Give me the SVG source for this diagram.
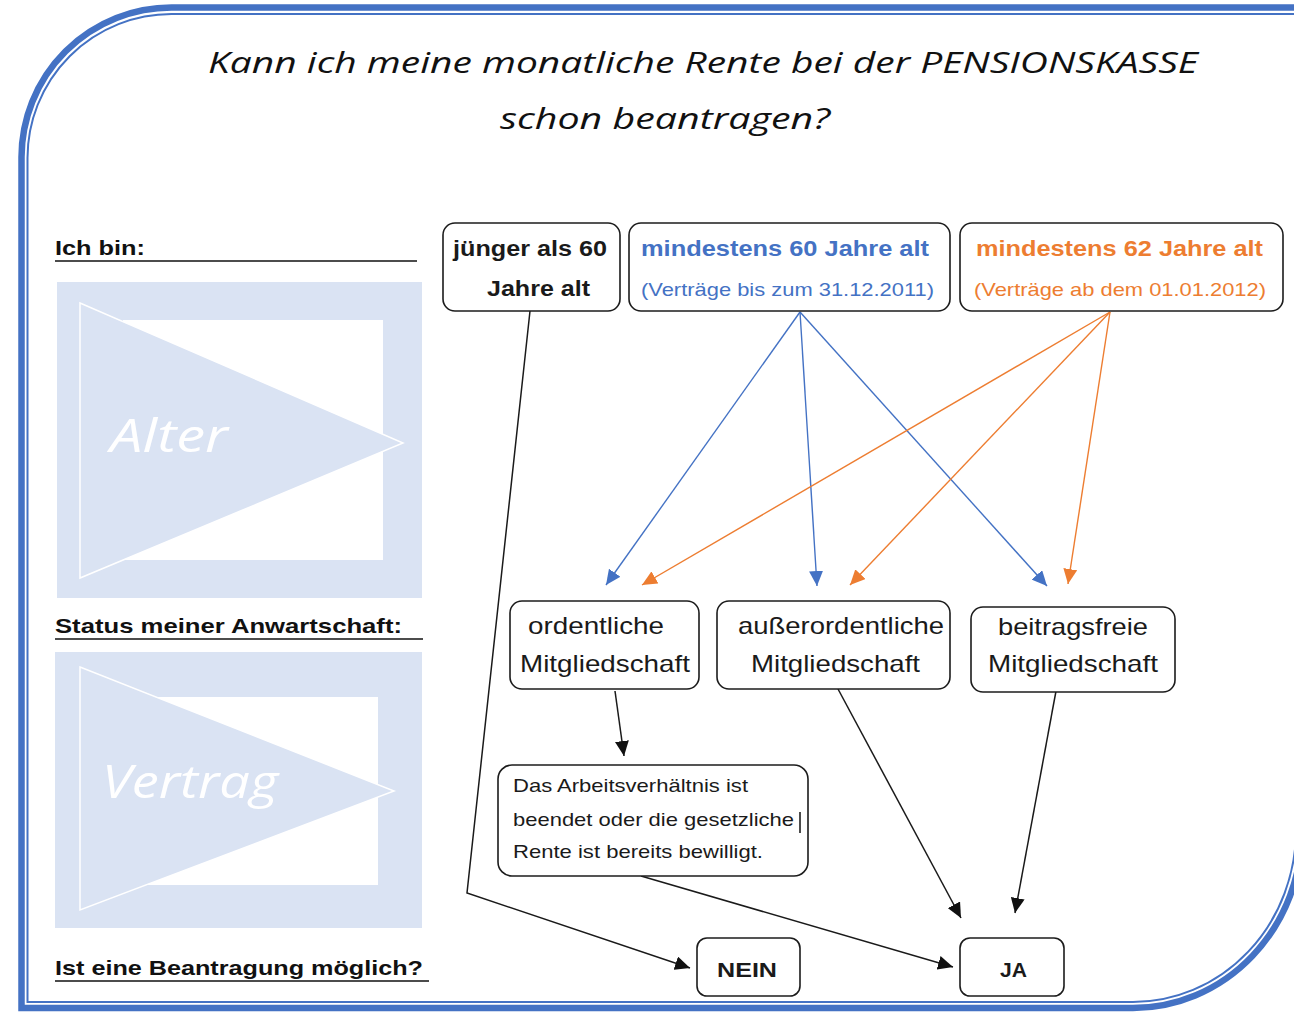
<svg xmlns="http://www.w3.org/2000/svg" width="1294" height="1012" viewBox="0 0 1294 1012">
<defs>
<style>
.box{fill:#fff;stroke:#1c1c1c;stroke-width:1.6}
.t{font-family:"Liberation Sans",Arial,sans-serif;fill:#1a1a1a}
.b{font-weight:bold}
.lbl{font-family:"Liberation Sans",Arial,sans-serif;font-weight:bold;font-size:21px;fill:#111}
.ul{stroke:#111;stroke-width:1.6}
.title{font-family:"Open Sans","Liberation Sans",sans-serif;font-style:italic;font-size:30px;fill:#111}
.wm{font-family:"Open Sans","Liberation Sans",sans-serif;font-style:italic;font-size:46px;fill:#fff}
.blue{fill:#4472C4}
.orange{fill:#ED7D31}
.cb{stroke:#4472C4;stroke-width:1.4;fill:none}
.co{stroke:#ED7D31;stroke-width:1.4;fill:none}
.ck{stroke:#1a1a1a;stroke-width:1.5;fill:none}
</style>
<marker id="ab" markerUnits="userSpaceOnUse" markerWidth="16" markerHeight="14" refX="15" refY="7" orient="auto"><path d="M0,0 L15,7 L0,14 Z" fill="#4472C4"/></marker>
<marker id="ao" markerUnits="userSpaceOnUse" markerWidth="16" markerHeight="14" refX="15" refY="7" orient="auto"><path d="M0,0 L15,7 L0,14 Z" fill="#ED7D31"/></marker>
<marker id="ak" markerUnits="userSpaceOnUse" markerWidth="16" markerHeight="14" refX="15" refY="7" orient="auto"><path d="M0,0 L15,7 L0,14 Z" fill="#111"/></marker>
</defs>

<g id="frame">
<path d="M21.5,1008 L21.5,157 A150,150 0 0 1 171.5,7.5 L1302,7.5 L1302,830 A169,178 0 0 1 1133,1008 Z" fill="none" stroke="#4472C4" stroke-width="6.5"/>
<path d="M27.5,1002 L27.5,158 A144,144 0 0 1 171.5,14 L1296,14 L1296,830 A163,172 0 0 1 1133,1002 Z" fill="none" stroke="#4472C4" stroke-width="2"/>
</g>

<g id="title">
<text class="title" x="208" y="73" textLength="990" lengthAdjust="spacingAndGlyphs">Kann ich meine monatliche Rente bei der PENSIONSKASSE</text>
<text class="title" x="500" y="129" textLength="330" lengthAdjust="spacingAndGlyphs">schon beantragen?</text>
</g>

<g id="left-labels">
<text class="lbl" x="55" y="255" textLength="90" lengthAdjust="spacingAndGlyphs">Ich bin:</text>
<line class="ul" x1="55" y1="261" x2="417" y2="261"/>
<text class="lbl" x="55" y="633" textLength="347" lengthAdjust="spacingAndGlyphs">Status meiner Anwartschaft:</text>
<line class="ul" x1="55" y1="639" x2="423" y2="639"/>
<text class="lbl" x="55" y="975" textLength="368" lengthAdjust="spacingAndGlyphs">Ist eine Beantragung möglich?</text>
<line class="ul" x1="55" y1="981" x2="429" y2="981"/>
</g>

<g id="panel-alter">
<rect x="57" y="282" width="365" height="316" fill="#DAE3F3"/>
<rect x="123" y="320" width="260" height="240" fill="#fff"/>
<polygon points="80,303 403,443 80,578" fill="#DAE3F3" stroke="#fff" stroke-width="1.5"/>
<text class="wm" x="110" y="452" textLength="118" lengthAdjust="spacingAndGlyphs">Alter</text>
</g>

<g id="panel-vertrag">
<rect x="55" y="652" width="367" height="276" fill="#DAE3F3"/>
<rect x="120" y="697" width="258" height="188" fill="#fff"/>
<polygon points="80,667 394,791 80,910" fill="#DAE3F3" stroke="#fff" stroke-width="1.5"/>
<text class="wm" x="102" y="798" textLength="176" lengthAdjust="spacingAndGlyphs">Vertrag</text>
</g>

<g id="connectors">
<line class="cb" x1="800" y1="312" x2="606" y2="585" marker-end="url(#ab)"/>
<line class="cb" x1="800" y1="312" x2="817" y2="586" marker-end="url(#ab)"/>
<line class="cb" x1="800" y1="312" x2="1047" y2="586" marker-end="url(#ab)"/>
<line class="co" x1="1110" y1="312" x2="642" y2="585" marker-end="url(#ao)"/>
<line class="co" x1="1110" y1="312" x2="850" y2="585" marker-end="url(#ao)"/>
<line class="co" x1="1110" y1="312" x2="1068" y2="584" marker-end="url(#ao)"/>
<polyline class="ck" points="530,311 467,893 690,968" marker-end="url(#ak)"/>
<line class="ck" x1="615" y1="691" x2="624" y2="756" marker-end="url(#ak)"/>
<line class="ck" x1="641" y1="876" x2="953" y2="967" marker-end="url(#ak)"/>
<line class="ck" x1="838" y1="689" x2="961" y2="918" marker-end="url(#ak)"/>
<line class="ck" x1="1056" y1="691" x2="1015" y2="913" marker-end="url(#ak)"/>
</g>

<g id="node-juenger">
<rect class="box" x="443" y="223" width="177" height="88" rx="12"/>
<text class="t b" x="453" y="256" font-size="22" textLength="154" lengthAdjust="spacingAndGlyphs">jünger als 60</text>
<text class="t b" x="487" y="296" font-size="22" textLength="103" lengthAdjust="spacingAndGlyphs">Jahre alt</text>
</g>

<g id="node-60">
<rect class="box" x="629" y="223" width="321" height="88" rx="12"/>
<text class="t b blue" x="641" y="256" font-size="22" textLength="288" lengthAdjust="spacingAndGlyphs">mindestens 60 Jahre alt</text>
<text class="t blue" x="641" y="296" font-size="19" textLength="293" lengthAdjust="spacingAndGlyphs">(Verträge bis zum 31.12.2011)</text>
</g>

<g id="node-62">
<rect class="box" x="960" y="223" width="323" height="88" rx="12"/>
<text class="t b orange" x="976" y="256" font-size="22" textLength="287" lengthAdjust="spacingAndGlyphs">mindestens 62 Jahre alt</text>
<text class="t orange" x="974" y="296" font-size="19" textLength="292" lengthAdjust="spacingAndGlyphs">(Verträge ab dem 01.01.2012)</text>
</g>

<g id="node-ordentlich">
<rect class="box" x="510" y="601" width="189" height="88" rx="12"/>
<text class="t" x="528" y="634" font-size="24" textLength="136" lengthAdjust="spacingAndGlyphs">ordentliche</text>
<text class="t" x="520" y="672" font-size="24" textLength="170" lengthAdjust="spacingAndGlyphs">Mitgliedschaft</text>
</g>

<g id="node-ausserordentlich">
<rect class="box" x="717" y="601" width="233" height="88" rx="12"/>
<text class="t" x="738" y="634" font-size="24" textLength="206" lengthAdjust="spacingAndGlyphs">außerordentliche</text>
<text class="t" x="751" y="672" font-size="24" textLength="169" lengthAdjust="spacingAndGlyphs">Mitgliedschaft</text>
</g>

<g id="node-beitragsfrei">
<rect class="box" x="971" y="607" width="204" height="85" rx="12"/>
<text class="t" x="998" y="635" font-size="24" textLength="150" lengthAdjust="spacingAndGlyphs">beitragsfreie</text>
<text class="t" x="988" y="672" font-size="24" textLength="170" lengthAdjust="spacingAndGlyphs">Mitgliedschaft</text>
</g>

<g id="node-arbeitsverhaeltnis">
<rect class="box" x="498" y="765" width="310" height="111" rx="14"/>
<text class="t" x="513" y="792" font-size="19" textLength="235" lengthAdjust="spacingAndGlyphs">Das Arbeitsverhältnis ist</text>
<text class="t" x="513" y="826" font-size="19" textLength="281" lengthAdjust="spacingAndGlyphs">beendet oder die gesetzliche</text>
<text class="t" x="513" y="858" font-size="19" textLength="250" lengthAdjust="spacingAndGlyphs">Rente ist bereits bewilligt.</text>
<line x1="800" y1="812" x2="800" y2="833" stroke="#111" stroke-width="1.5"/>
</g>

<g id="node-nein">
<rect class="box" x="697" y="938" width="103" height="58" rx="10"/>
<text class="t b" x="717" y="977" font-size="21" textLength="60" lengthAdjust="spacingAndGlyphs">NEIN</text>
</g>

<g id="node-ja">
<rect class="box" x="960" y="938" width="104" height="58" rx="10"/>
<text class="t b" x="1000" y="977" font-size="21" textLength="27" lengthAdjust="spacingAndGlyphs">JA</text>
</g>
</svg>
